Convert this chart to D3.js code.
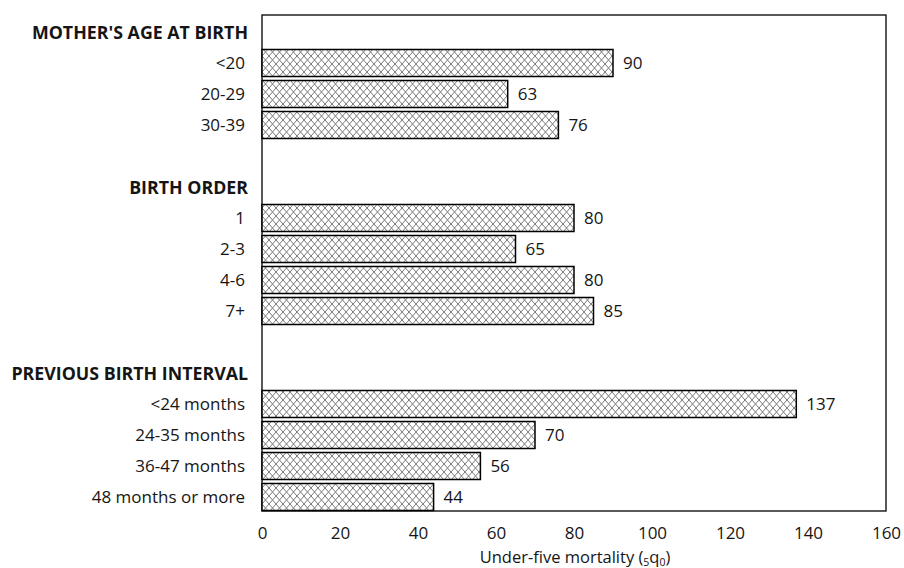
<!DOCTYPE html>
<html><head><meta charset="utf-8">
<script src="https://cdn.jsdelivr.net/npm/d3@7"></script>
<style>body{margin:0;background:#fff}svg{display:block}text{font-family:"Open Sans",Lato,sans-serif;fill:#151515}</style>
</head><body><svg id="c" width="904" height="568"></svg>
<script>
const rows = ["h0","<20","20-29","30-39","b0","h1","1","2-3","4-6","7+","b1","h2","<24 months","24-35 months","36-47 months","48 months or more"];
const headers = {h0:"MOTHER'S AGE AT BIRTH", h1:"BIRTH ORDER", h2:"PREVIOUS BIRTH INTERVAL"};
const categories = ["<20","20-29","30-39","1","2-3","4-6","7+","<24 months","24-35 months","36-47 months","48 months or more"];
const values = [90,63,76,80,65,80,85,137,70,56,44];
const xTicks = [0,20,40,60,80,100,120,140,160];

(function(){
const svg = d3.select("#c");
const L = 262, R = 886, T = 15, B = 511;
const x = d3.scaleLinear().domain([0,160]).range([L,R]);
const y = d3.scaleBand().domain(rows).range([18.5,510.5]).paddingInner(0.129).paddingOuter(0);

const defs = svg.append("defs");
const pat = defs.append("pattern").attr("id","hatch").attr("patternUnits","userSpaceOnUse")
  .attr("width",7).attr("height",8).attr("x",L).attr("y",0);
pat.append("rect").attr("width",7).attr("height",8).attr("fill","#fff");
pat.append("path").attr("d","M0,0L7,8M7,0L0,8").attr("stroke","#7a7a7a").attr("stroke-width",1).attr("fill","none");

svg.append("rect").attr("x",L).attr("y",T).attr("width",R-L).attr("height",B-T)
  .attr("fill","none").attr("stroke","#000").attr("stroke-width",1.3);

const data = categories.map((c,i)=>({c,v:values[i]}));
svg.selectAll("rect.bar").data(data).join("rect").attr("class","bar")
  .attr("x",x(0)).attr("y",d=>y(d.c)).attr("width",d=>x(d.v)-x(0)).attr("height",y.bandwidth())
  .attr("fill","url(#hatch)").attr("stroke","#000").attr("stroke-width",1.5);

const fs = 17;
svg.selectAll("text.val").data(data).join("text").attr("class","val")
  .attr("x",d=>x(d.v)+10).attr("y",d=>y(d.c)+y.bandwidth()/2).attr("dy","0.37em")
  .attr("font-size",fs).text(d=>d.v);

svg.selectAll("text.cat").data(categories).join("text").attr("class","cat")
  .attr("x",245).attr("y",d=>y(d)+y.bandwidth()/2).attr("dy","0.37em").attr("text-anchor","end")
  .attr("font-size",fs).text(d=>d);

svg.selectAll("text.hdr").data(Object.keys(headers)).join("text").attr("class","hdr")
  .attr("x",248).attr("y",d=>y(d)+y.bandwidth()/2).attr("dy","0.37em").attr("text-anchor","end")
  .attr("font-size",17.8).attr("font-weight","bold").text(d=>headers[d]);

const ax = svg.append("g").attr("transform",`translate(0,${B})`)
  .call(d3.axisBottom(x).tickValues(xTicks).tickSize(0).tickPadding(16));
ax.select(".domain").remove();
ax.selectAll("text").attr("font-size",fs).style("font-family","'Open Sans',Lato,sans-serif").attr("fill","#151515");

const t = svg.append("text").attr("x",575).attr("y",563).attr("text-anchor","middle").attr("font-size",16.5);
t.append("tspan").text("Under-five mortality (");
t.append("tspan").attr("font-size",10.5).attr("dy",2.5).text("5");
t.append("tspan").attr("dy",-2.5).text("q");
t.append("tspan").attr("font-size",10.5).attr("dy",2.5).text("0");
t.append("tspan").attr("dy",-2.5).text(")");
})();
</script></body></html>
